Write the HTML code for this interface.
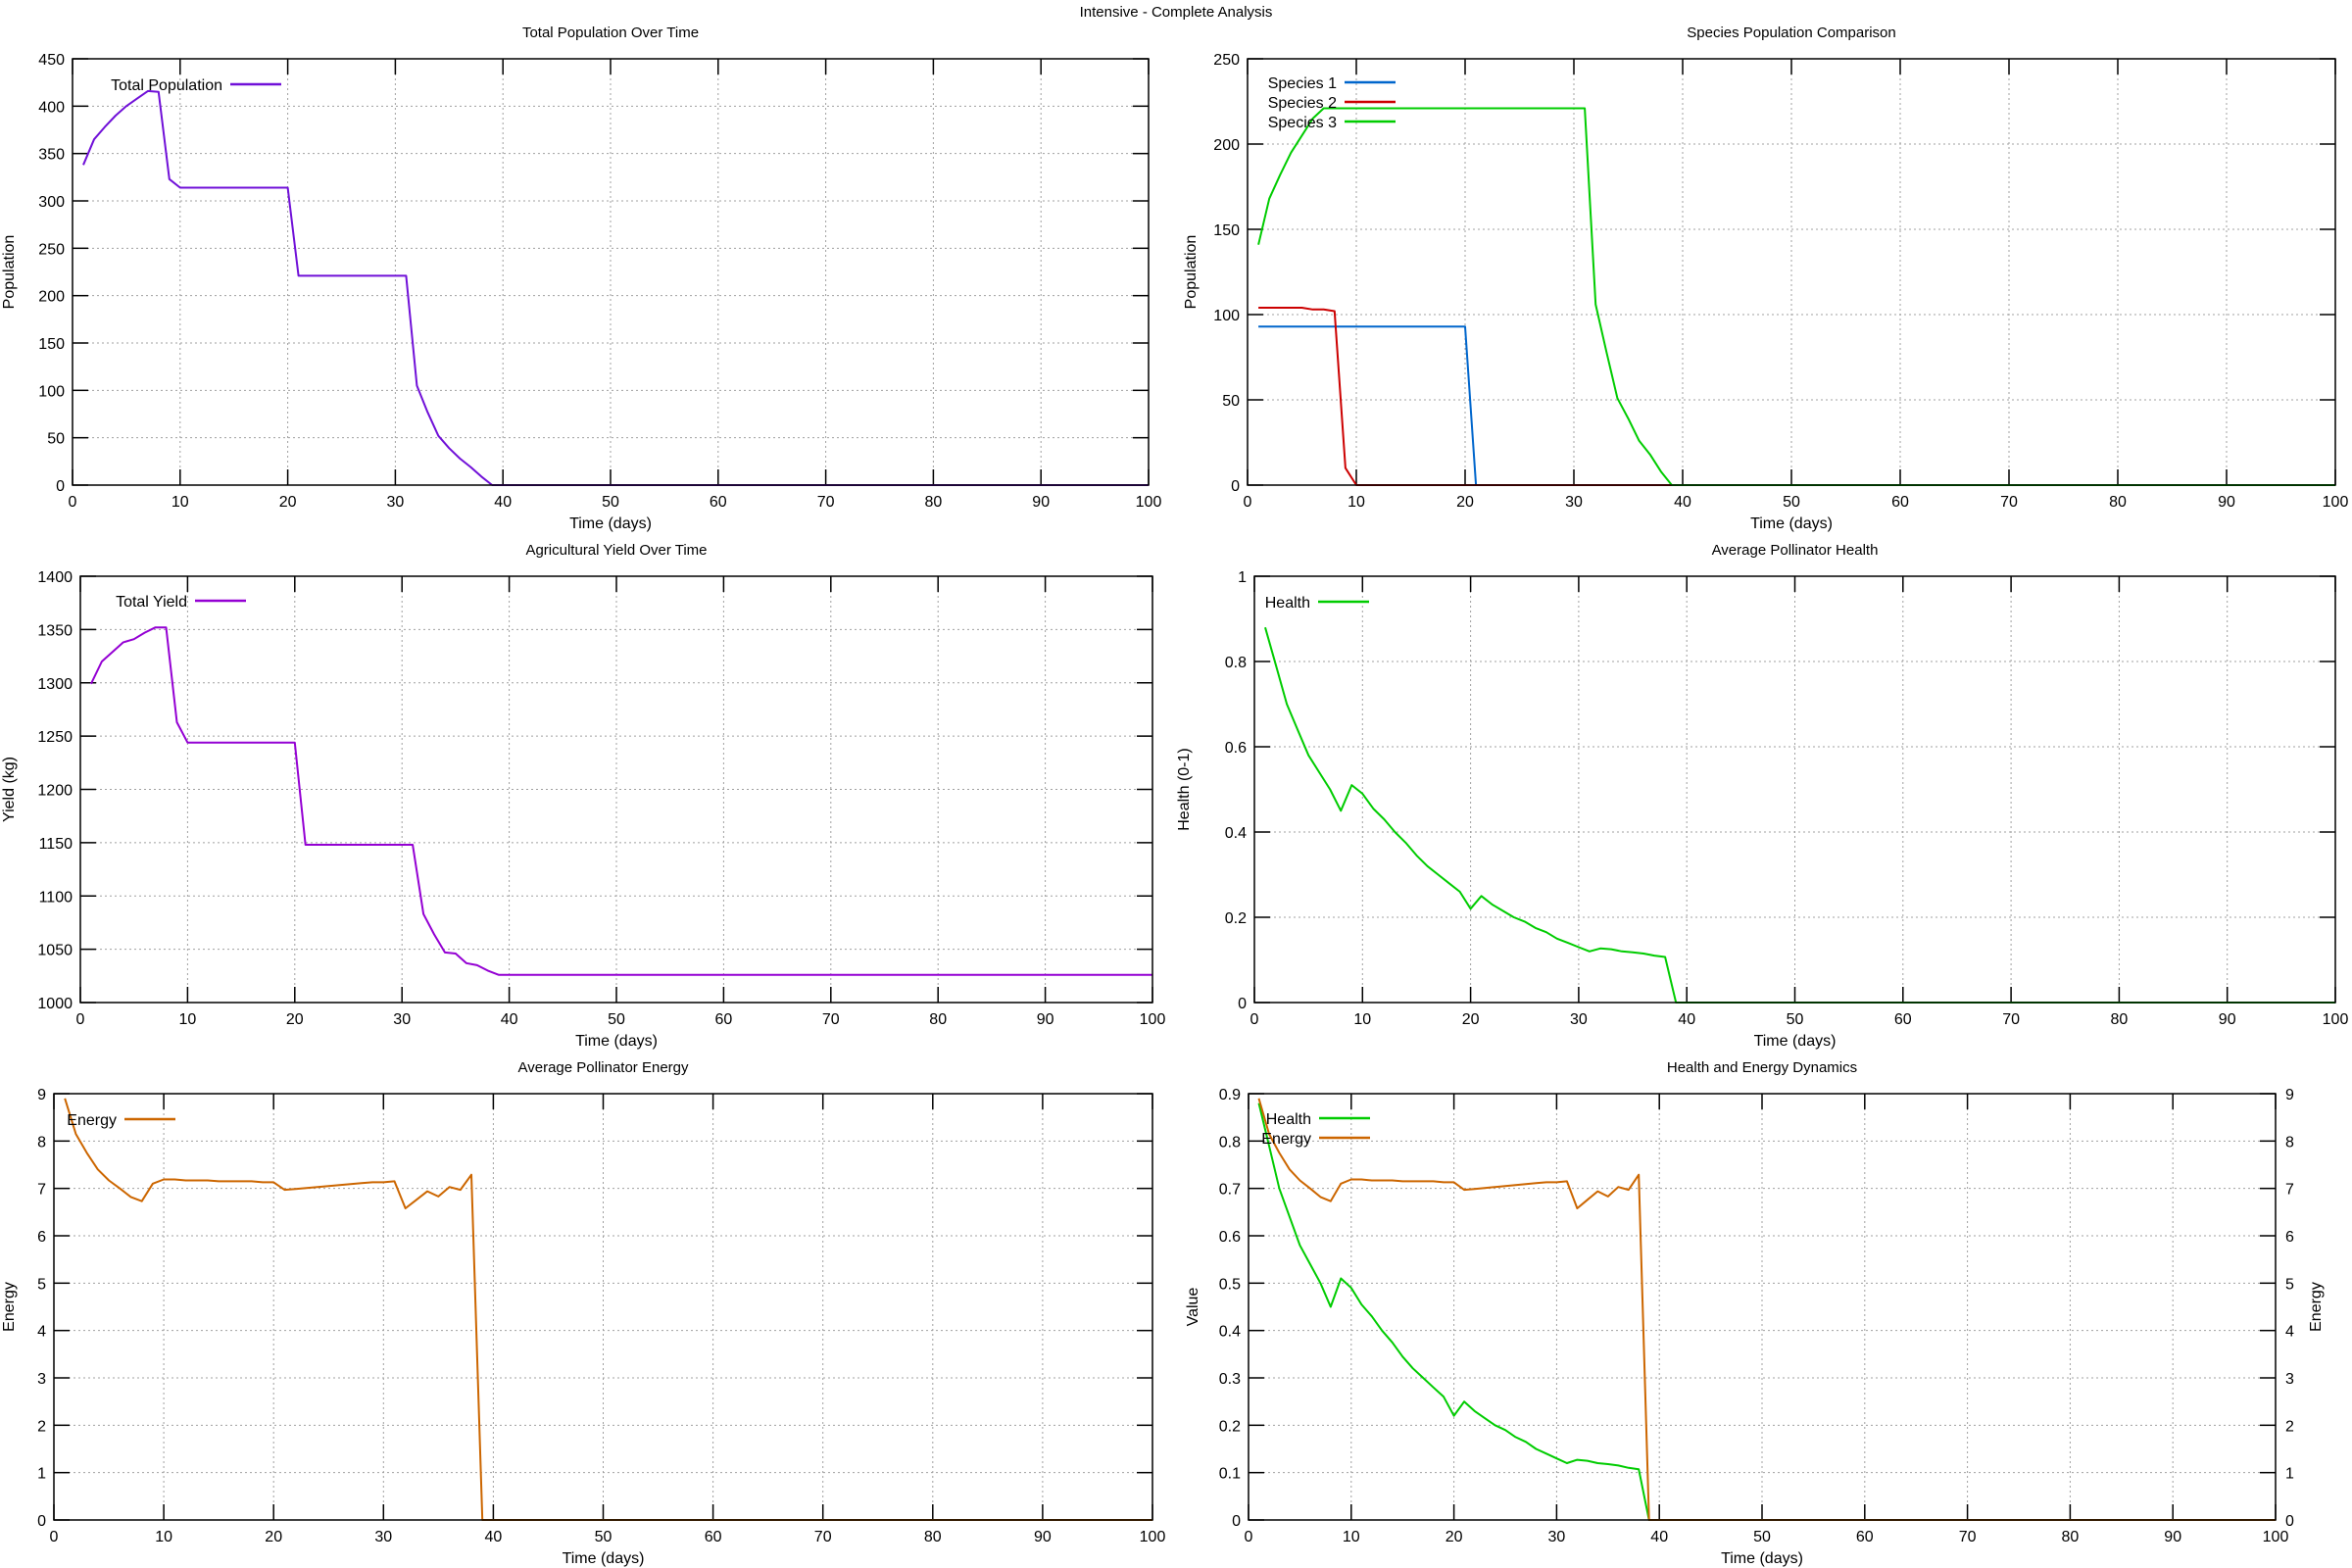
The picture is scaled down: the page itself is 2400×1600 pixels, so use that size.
<!DOCTYPE html>
<html><head><meta charset="utf-8"><style>
html,body{margin:0;padding:0;background:#fff;}
svg{display:block;font-family:"Liberation Sans",Arial,sans-serif;}
</style></head><body>
<svg id="fig" width="2400" height="1600" viewBox="0 0 2400 1600" xmlns="http://www.w3.org/2000/svg">
<text x="1200" y="17" text-anchor="middle" font-size="15">Intensive - Complete Analysis</text>
</svg>
<script>
const days = [];
for (let d = 1; d <= 100; d++) days.push(d);
const totalPopHead = [338,365,378,390,400,408,416,415,323,314,314,314,314,314,314,314,314,314,314,314,221,221,221,221,221,221,221,221,221,221,221,105,77,52,39,28,19,9,0];
const species1Head = [93,93,93,93,93,93,93,93,93,93,93,93,93,93,93,93,93,93,93,93,0];
const species2Head = [104,104,104,104,104,103,103,102,10,0];
const species3Head = [141,168,182,195,205,215,221,221,221,221,221,221,221,221,221,221,221,221,221,221,221,221,221,221,221,221,221,221,221,221,221,106,78,51,39,26,18,8,0];
const yieldHead = [1299,1320,1329,1338,1341,1347,1352,1352,1263,1244,1244,1244,1244,1244,1244,1244,1244,1244,1244,1244,1148,1148,1148,1148,1148,1148,1148,1148,1148,1148,1148,1083,1064,1047,1046,1037,1035,1030,1026];
const yieldTail = 1026;
const healthHead = [0.88,0.79,0.70,0.64,0.58,0.54,0.50,0.45,0.51,0.49,0.455,0.43,0.40,0.375,0.345,0.32,0.30,0.28,0.26,0.22,0.25,0.23,0.215,0.20,0.19,0.175,0.165,0.15,0.14,0.13,0.12,0.127,0.125,0.12,0.118,0.115,0.11,0.107,0];
const energyHead = [8.9,8.15,7.75,7.4,7.17,7.0,6.82,6.73,7.1,7.19,7.19,7.17,7.17,7.17,7.15,7.15,7.15,7.15,7.13,7.13,6.97,6.99,7.01,7.03,7.05,7.07,7.09,7.11,7.13,7.13,7.15,6.58,6.76,6.94,6.83,7.03,6.97,7.29,0];
const xTicks = [0,10,20,30,40,50,60,70,80,90,100];
const popTicks = [0,50,100,150,200,250,300,350,400,450];
const speciesTicks = [0,50,100,150,200,250];
const yieldTicks = [1000,1050,1100,1150,1200,1250,1300,1350,1400];
const healthTicks = [0,0.2,0.4,0.6,0.8,1];
const energyTicks = [0,1,2,3,4,5,6,7,8,9];
const valueTicks = [0,0.1,0.2,0.3,0.4,0.5,0.6,0.7,0.8,0.9];

function full(head, tail){ const a = head.slice(); while (a.length < days.length) a.push(tail); return a; }
const totalPop = full(totalPopHead, 0);
const species1 = full(species1Head, 0);
const species2 = full(species2Head, 0);
const species3 = full(species3Head, 0);
const yieldVals = full(yieldHead, yieldTail);
const health = full(healthHead, 0);
const energy = full(energyHead, 0);

const NS = 'http://www.w3.org/2000/svg';
const svg = document.getElementById('fig');
function mk(tag, attrs, parent){ const e = document.createElementNS(NS, tag); for (const k in attrs) e.setAttribute(k, attrs[k]); (parent||svg).appendChild(e); return e; }
function fmt(v){ return String(Math.round(v*1000)/1000); }

function chart(o){
  const g = mk('g', {});
  
  
  const X = v => o.l + (v - 0) / 100 * (o.r - o.l);
  const Y = v => o.b - (v - o.ymin) / (o.ymax - o.ymin) * (o.b - o.t);
  const Y2 = o.y2 ? (v => o.b - (v - o.y2.min) / (o.y2.max - o.y2.min) * (o.b - o.t)) : null;
  // grid
  xTicks.forEach(v => { if (v>0 && v<100) { const l = mk('line',{x1:X(v),x2:X(v),y1:o.t,y2:o.b,stroke:'#a0a0a0','stroke-width':1,'stroke-dasharray':'2,3'},g);
      } });
  o.yt.forEach(v => { if (v>o.ymin && v<o.ymax) { const l = mk('line',{x1:o.l,x2:o.r,y1:Y(v),y2:Y(v),stroke:'#a0a0a0','stroke-width':1,'stroke-dasharray':'2,3'},g);
      } });
  // ticks + labels
  xTicks.forEach(v => {
    mk('line',{x1:X(v),x2:X(v),y1:o.b,y2:o.b-16,stroke:'#000','stroke-width':1.5},g);
    mk('line',{x1:X(v),x2:X(v),y1:o.t,y2:o.t+16,stroke:'#000','stroke-width':1.5},g);
    const t = mk('text',{x:X(v),y:o.b+22,'text-anchor':'middle','font-size':16},g); t.textContent = v;
     
  });
  o.yt.forEach(v => {
    mk('line',{x1:o.l,x2:o.l+16,y1:Y(v),y2:Y(v),stroke:'#000','stroke-width':1.5},g);
    if (!o.y2) mk('line',{x1:o.r,x2:o.r-16,y1:Y(v),y2:Y(v),stroke:'#000','stroke-width':1.5},g);
    const t = mk('text',{x:o.l-8,y:Y(v)+6,'text-anchor':'end','font-size':16},g); t.textContent = fmt(v);
     
  });
  if (o.y2) o.y2.ticks.forEach(v => {
    mk('line',{x1:o.r,x2:o.r-16,y1:Y2(v),y2:Y2(v),stroke:'#000','stroke-width':1.5},g);
    const t = mk('text',{x:o.r+10,y:Y2(v)+6,'text-anchor':'start','font-size':16},g); t.textContent = fmt(v);
     
  });
  // series
  o.series.forEach(s => {
    const f = s.axis2 ? Y2 : Y;
    const pts = days.map((d,i) => X(d).toFixed(1)+','+f(s.v[i]).toFixed(1)).join(' ');
    const p = mk('polyline',{points:pts,fill:'none',stroke:s.c,'stroke-width':2,'stroke-linejoin':'round'},g);
    
    
  });
  // frame
  mk('rect',{x:o.l,y:o.t,width:o.r-o.l,height:o.b-o.t,fill:'none',stroke:'#000','stroke-width':1.5},g);
  // legend
  o.series.forEach((s,i) => {
    const ly = o.legY + i*20;
    const t = mk('text',{x:o.legX-8,y:ly+6,'text-anchor':'end','font-size':16},g); t.textContent = s.label;
     
    mk('line',{x1:o.legX,x2:o.legX+52,y1:ly,y2:ly,stroke:s.c,'stroke-width':2.5},g);
  });
  const tt = mk('text',{x:(o.l+o.r)/2,y:o.t-22,'text-anchor':'middle','font-size':15},g); tt.textContent = o.title;
   
  const xl = mk('text',{x:(o.l+o.r)/2,y:o.b+44,'text-anchor':'middle','font-size':16},g); xl.textContent = 'Time (days)';
   
  const cy = (o.t+o.b)/2;
  const yl = mk('text',{x:o.ylx,y:cy,'text-anchor':'middle','font-size':16,transform:`rotate(-90 ${o.ylx} ${cy})`},g); yl.textContent = o.ylabel;
   
  if (o.y2) {
    const x2 = o.r+46;
    const yl2 = mk('text',{x:x2,y:cy,'text-anchor':'middle','font-size':16,transform:`rotate(-90 ${x2} ${cy})`},g); yl2.textContent = o.y2.label;
     
  }
}

chart({name:'total-population-chart',title:'Total Population Over Time',l:74,r:1172,t:60,b:495,ymin:0,ymax:450,yt:popTicks,ylabel:'Population',ylx:14,legX:235,legY:86,
  series:[{id:'total-population',label:'Total Population',c:'#7010d8',v:totalPop}]});
chart({name:'species-chart',title:'Species Population Comparison',l:1273,r:2383,t:60,b:495,ymin:0,ymax:250,yt:speciesTicks,ylabel:'Population',ylx:1220,legX:1372,legY:84,
  series:[{id:'species-1',label:'Species 1',c:'#0066cc',v:species1},{id:'species-2',label:'Species 2',c:'#cc0000',v:species2},{id:'species-3',label:'Species 3',c:'#00cc00',v:species3}]});
chart({name:'yield-chart',title:'Agricultural Yield Over Time',l:82,r:1176,t:588,b:1023,ymin:1000,ymax:1400,yt:yieldTicks,ylabel:'Yield (kg)',ylx:14,legX:199,legY:613,
  series:[{id:'total-yield',label:'Total Yield',c:'#9400d3',v:yieldVals}]});
chart({name:'health-chart',title:'Average Pollinator Health',l:1280,r:2383,t:588,b:1023,ymin:0,ymax:1,yt:healthTicks,ylabel:'Health (0-1)',ylx:1213,legX:1345,legY:614,
  series:[{id:'health',label:'Health',c:'#00cc00',v:health}]});
chart({name:'energy-chart',title:'Average Pollinator Energy',l:55,r:1176,t:1116,b:1551,ymin:0,ymax:9,yt:energyTicks,ylabel:'Energy',ylx:14,legX:127,legY:1142,
  series:[{id:'energy',label:'Energy',c:'#cc6600',v:energy}]});
chart({name:'health-energy-chart',title:'Health and Energy Dynamics',l:1274,r:2322,t:1116,b:1551,ymin:0,ymax:0.9,yt:valueTicks,ylabel:'Value',ylx:1222,legX:1346,legY:1141,
  y2:{min:0,max:9,ticks:energyTicks,label:'Energy'},
  series:[{id:'dual-health',label:'Health',c:'#00cc00',v:health},{id:'dual-energy',label:'Energy',c:'#cc6600',v:energy,axis2:true}]});
</script>
</body></html>
